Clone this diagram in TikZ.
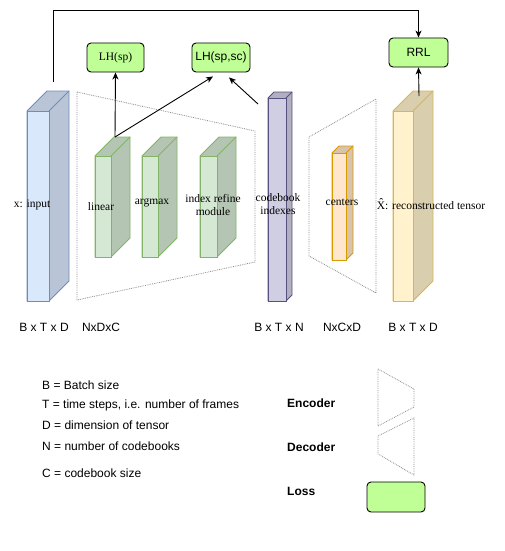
\documentclass[tikz,border=0pt]{standalone}
\usepackage{fontspec}
\setmainfont{Liberation Serif}
\setsansfont{Liberation Sans}
\usetikzlibrary{shapes,arrows,arrows.meta,positioning}

\definecolor{lossgreen}{RGB}{192,255,150}
\definecolor{inblue}{RGB}{218,232,252}
\definecolor{inbluel}{RGB}{108,142,191}
\definecolor{lgreen}{RGB}{213,232,212}
\definecolor{lgreenl}{RGB}{130,179,102}
\definecolor{cbpurple}{RGB}{208,206,226}
\definecolor{cbpurplel}{RGB}{86,81,126}
\definecolor{cpeach}{RGB}{255,230,204}
\definecolor{cpeachl}{RGB}{215,155,0}
\definecolor{recyellow}{RGB}{255,242,204}
\definecolor{recyellowl}{RGB}{214,182,86}

\tikzset{
  lossbox/.style={draw, line width=0.9pt, fill=lossgreen, rounded corners=4pt, minimum width=57pt, minimum height=29pt, inner sep=0},
  arr/.style={line width=0.9pt, -{Stealth[length=7pt,width=6pt,inset=2pt]}},
  codec/.style={draw=gray!90, densely dotted, line width=0.8pt},
  txt/.style={font=\fontsize{11.5}{13}\selectfont, inner sep=0},
  stxt/.style={font=\sffamily\fontsize{12}{14}\selectfont, inner sep=0},
  btxt/.style={font=\sffamily\bfseries\fontsize{12}{14}\selectfont, inner sep=0, anchor=west}
}

% cube: name, x, y (front top left), width, height, depth, fill, line
\newcommand{\cube}[8]{%
  \draw[#8, line width=0.9pt, fill=#7!85!black] (#2,#3) -- ++(#6,-#6) -- ++(#4,0) -- ++(0,#5) -- ++(-#6,#6) -- ++(-#4,0) -- cycle;
  \node[draw=#8, line width=0.9pt, fill=#7, minimum width=#4pt, minimum height=#5pt, inner sep=0, anchor=north west] (#1) at (#2,#3) {};
  \draw[#8, line width=0.9pt] (#2+#4,#3) -- ++(#6,-#6);
}

\begin{document}
\begin{tikzpicture}[x=1pt,y=-1pt]
\useasboundingbox (0,0) rectangle (504,551);

% encoder / decoder
\draw[codec] (77,92) -- (255,131) -- (255,262) -- (77,300) -- cycle;
\draw[codec] (309,137) -- (376,99) -- (376,293) -- (309,256) -- cycle;

% tensors
\cube{input}{27}{111}{22}{190}{20}{inblue}{inbluel}
\cube{linear}{95}{156}{16}{101}{19}{lgreen}{lgreenl}
\cube{argmax}{142}{156}{16}{101}{19}{lgreen}{lgreenl}
\cube{refine}{200}{156}{17}{101}{19}{lgreen}{lgreenl}
\cube{codebook}{268}{98}{18}{203}{6}{cbpurple}{cbpurplel}
\cube{centers}{332}{153}{14}{107}{7}{cpeach}{cpeachl}
\cube{recon}{393}{111}{20}{190}{20}{recyellow}{recyellowl}

\node[txt] at (32,205) {x: input};
\node[txt] at (101,207) {linear};
\node[txt] at (152,203) {argmax};
\node[txt, align=center] at (213,205) {index refine\\module};
\node[txt, align=center] at (278,204) {codebook\\indexes};
\node[txt] at (342,202) {centers};
\node[txt] at (431,204) {\^{X}: reconstructed tensor};

% losses
\node[lossbox] (lhsp) at (115.5,57.5) {\fontsize{11.5}{13}\selectfont LH(sp)};
\node[lossbox, minimum width=58pt] (lhspsc) at (221,57.5) {\sffamily\fontsize{12}{14}\selectfont LH(sp,sc)};
\node[lossbox, minimum width=59pt] (rrl) at (418.5,52.5) {\sffamily\fontsize{12}{14}\selectfont RRL};

\coordinate (lin) at (115,137);
\coordinate (cbk) at (258,104);
\coordinate (skip) at (53,82);
\coordinate (rec) at (419,96);

\draw[arr] (lin) -- (lhsp.south);
\draw[arr] (lin) -- ([xshift=-8pt,yshift=-4pt]lhspsc.south);
\draw[arr] (cbk) -- ([xshift=8pt,yshift=-5pt]lhspsc.south);
\draw[arr] (rec) -- (rrl.south);
\draw[arr] (skip) -- (53,10) -- (rrl.north |- 0,10) -- (rrl.north);

% shapes
\node[stxt] at (44,327) {B x T x D};
\node[stxt] at (101,327) {NxDxC};
\node[stxt] at (279,327) {B x T x N};
\node[stxt] at (342,327) {NxCxD};
\node[stxt] at (413,327) {B x T x D};

% legend
\node[stxt, anchor=west] at (42,385) {B = Batch size};
\node[stxt, anchor=west] at (42,405) {T = time steps, i.e. number of frames};
\node[stxt, anchor=west] at (42,425) {D = dimension of tensor};
\node[stxt, anchor=west] at (42,446) {N = number of codebooks};
\node[stxt, anchor=west] at (42,473) {C = codebook size};

\node[btxt] at (287,403) {Encoder};
\node[btxt] at (287,447) {Decoder};
\node[btxt] at (287,491) {Loss};
\draw[codec] (378,369) -- (414,389) -- (414,407) -- (378,426) -- cycle;
\draw[codec] (378,436) -- (414,418) -- (414,475) -- (378,454) -- cycle;
\node[lossbox, minimum width=58pt, minimum height=30pt] (losskey) at (396,497) {};
\end{tikzpicture}
\end{document}
